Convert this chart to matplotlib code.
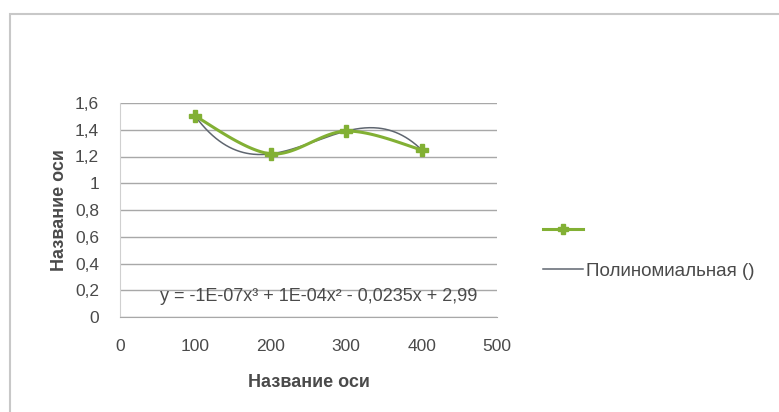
import numpy as np
import matplotlib.pyplot as plt
from matplotlib.patches import Rectangle
from matplotlib.lines import Line2D

x_vals = [100, 200, 300, 400]
y_vals = [1.5, 1.22, 1.39, 1.25]
y_ticks = [0, 0.2, 0.4, 0.6, 0.8, 1.0, 1.2, 1.4, 1.6]
y_tick_labels = ["0", "0,2", "0,4", "0,6", "0,8", "1", "1,2", "1,4", "1,6"]
x_ticks = [0, 100, 200, 300, 400, 500]
axis_title = "Название оси"
trend_label = "Полиномиальная ()"
equation = "y = -1E-07x³ + 1E-04x² - 0,0235x + 2,99"

plt.rcParams['font.family'] = ['Liberation Sans', 'DejaVu Sans']

GREEN = "#82b034"
GRAY_TREND = "#5f6670"
GRID = "#a8a8a8"
TEXT = "#4a4a4a"
FS = 12.5


def smooth_curve(xs, ys, n=40):
    """Catmull-Rom style smoothing between consecutive points."""
    xs = np.asarray(xs, float)
    ys = np.asarray(ys, float)
    pts = np.column_stack([xs, ys])
    out = []
    m = len(pts)
    for i in range(m - 1):
        p0 = pts[i - 1] if i > 0 else pts[i]
        p1 = pts[i]
        p2 = pts[i + 1]
        p3 = pts[i + 2] if i + 2 < m else pts[i + 1]
        c1 = p1 + (p2 - p0) / 6.0
        c2 = p2 - (p3 - p1) / 6.0
        t = np.linspace(0, 1, n)[:, None]
        seg = ((1 - t) ** 3) * p1 + 3 * ((1 - t) ** 2) * t * c1 + 3 * (1 - t) * t ** 2 * c2 + t ** 3 * p2
        out.append(seg if i == 0 else seg[1:])
    out = np.vstack(out)
    return out[:, 0], out[:, 1]


fig = plt.figure(figsize=(7.79, 4.12), dpi=100)
fig.patch.set_facecolor("white")

# chart frame
fig.patches.append(Rectangle((10 / 779, -0.05), 1.1, 1 - 14 / 412 + 0.05,
                             transform=fig.transFigure, fill=False,
                             edgecolor="#c8c8c8", linewidth=1.5))

ax = fig.add_axes([120 / 779, 1 - 317 / 412, (497 - 120) / 779, (317 - 103) / 412])
ax.set_xlim(0, 500)
ax.set_ylim(0, 1.6)
ax.set_yticks(y_ticks)
ax.set_yticklabels(y_tick_labels)
ax.set_xticks(x_ticks)
ax.tick_params(length=0, labelsize=FS, colors=TEXT)
ax.tick_params(axis='y', pad=15)
ax.tick_params(axis='x', pad=16)
ax.grid(axis='y', color=GRID, linewidth=1)
ax.set_axisbelow(True)
for s in ["top", "right"]:
    ax.spines[s].set_visible(False)
ax.spines["bottom"].set_color(GRID)
ax.spines["left"].set_color("#d0d0d0")

# polynomial (3rd order) trend line
coef = np.polyfit(x_vals, y_vals, 3)
xt = np.linspace(x_vals[0], x_vals[-1], 200)
ax.plot(xt, np.polyval(coef, xt), color=GRAY_TREND, linewidth=1.1, zorder=3)

# smoothed data series
sx, sy = smooth_curve(x_vals, y_vals)
ax.plot(sx, sy, color=GREEN, linewidth=2.2, zorder=4)
ax.plot(x_vals, y_vals, linestyle="none", marker="P", markersize=8,
        color=GREEN, markeredgecolor=GREEN, zorder=5)

ax.text(263, 0.157, equation, fontsize=13, color=TEXT, ha="center", va="center")

ax.set_xlabel(axis_title, fontsize=13, fontweight="bold", color=TEXT, labelpad=14)
ax.set_ylabel(axis_title, fontsize=13, fontweight="bold", color=TEXT, labelpad=5)

handles = [
    Line2D([0], [0], color=GREEN, linewidth=2.2, marker="P", markersize=7),
    Line2D([0], [0], color=GRAY_TREND, linewidth=1.1),
]
fig.legend(handles, ["", trend_label], loc="upper left",
           bbox_to_anchor=(530 / 779, 1 - 209 / 412), frameon=False,
           fontsize=13.5, labelcolor=TEXT, handlelength=2.1, handletextpad=0.2,
           labelspacing=1.25, borderpad=0.2)

fig.savefig("out.png", dpi=100)
